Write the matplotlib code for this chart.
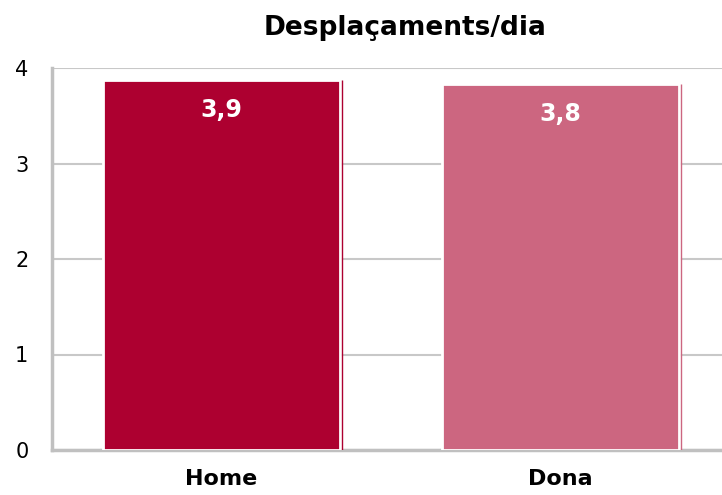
import matplotlib.pyplot as plt

categories = ['Home', 'Dona']
values = [3.87, 3.83]
labels = ['3,9', '3,8']
colors = ['#AD0030', '#CC6680']
yticks = [0, 1, 2, 3, 4]

fig = plt.figure(figsize=(7.22, 4.95), dpi=100)
ax = fig.add_axes([52/722, 1-450/495, 1-52/722, (450-68)/495])

x = list(range(len(categories)))
w = 0.7
ax.bar(x, values, width=w, color=colors, edgecolor='white', linewidth=2, zorder=3)
# thin stripe just right of each bar
for i, v in enumerate(values):
    ax.vlines(i + w/2 + 0.006, 0, v, color=colors[i], linewidth=1, zorder=3)
    ax.annotate(labels[i], (i, v), xytext=(0, -13), textcoords='offset points',
                ha='center', va='top', color='white', fontsize=17, fontweight='bold', zorder=4)

ax.set_xlim(-0.5, 1.476)
ax.set_ylim(0, 4)
ax.set_yticks(yticks)
ax.set_yticklabels([str(t) for t in yticks], fontsize=15)
ax.set_xticks(x)
ax.set_xticklabels(categories, fontsize=16, fontweight='bold')
ax.tick_params(axis='y', length=0, pad=17)
ax.tick_params(axis='x', length=0, pad=14)
ax.yaxis.grid(True, color='#C8C8C8', linewidth=1.5, zorder=0)
ax.set_axisbelow(True)

for s in ['top', 'right']:
    ax.spines[s].set_visible(False)
for s in ['left', 'bottom']:
    ax.spines[s].set_color('#C0C0C0')
    ax.spines[s].set_linewidth(2.5)

fig.text(405/722, 1-28/495, 'Desplaçaments/dia', ha='center', va='center',
         fontsize=19, fontweight='bold')

fig.savefig('out.png', dpi=100)
